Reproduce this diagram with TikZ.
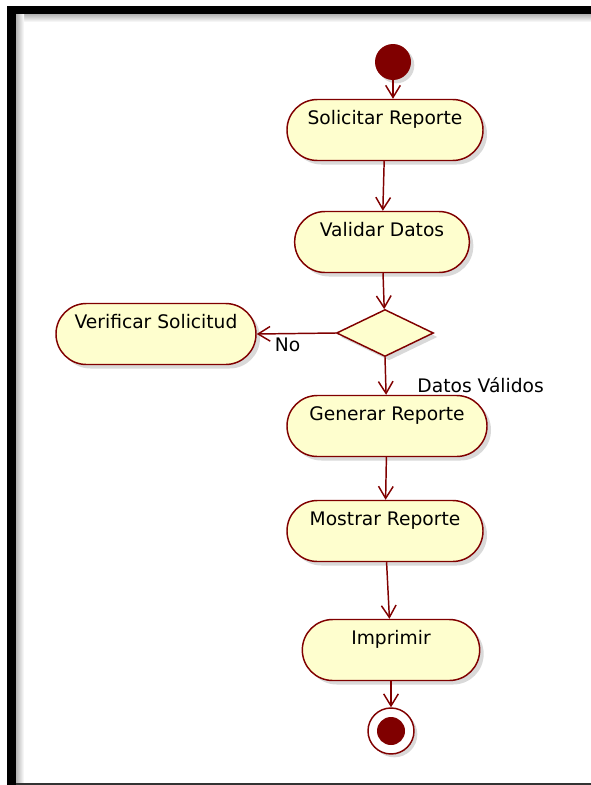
\documentclass[tikz,border=0pt]{standalone}
\usepackage{fontspec}
\setmainfont{DejaVu Sans}
\usetikzlibrary{positioning,shapes.geometric,arrows.meta,shadows}
\definecolor{umlborder}{HTML}{800000}
\definecolor{umlfill}{HTML}{FEFECE}

\begin{document}
\begin{tikzpicture}[x=0.75pt, y=-0.75pt, every node/.style={font=\fontsize{14}{16}\selectfont},
    actbox/.style={draw=umlborder, fill=umlfill, line width=1.1pt, rounded corners=22.8pt,
        text height=18.75pt, text depth=27pt, inner ysep=0pt, inner xsep=0pt,
        drop shadow={shadow xshift=3pt, shadow yshift=-3pt, opacity=0.3}},
    decbox/.style={diamond, draw=umlborder, fill=umlfill, line width=1.1pt, inner sep=0pt,
        minimum width=72.75pt, minimum height=35.25pt,
        drop shadow={shadow xshift=3pt, shadow yshift=-3pt, opacity=0.3}},
    flow/.style={draw=umlborder, line width=1.1pt, -{Straight Barb[length=9pt, width=11pt]}},
    guard/.style={inner sep=3pt}]
    \useasboundingbox (0,0) rectangle (591,785);

    % marco
    \shade[top color=black!30, bottom color=white] (16,14) rectangle (591,22);
    \shade[left color=black!30, right color=white] (16,14) rectangle (24,785);
    \draw[line width=6pt] (7,10) -- (591,10);
    \draw[line width=6.75pt] (11.5,6) -- (11.5,785);
    \draw[line width=1.5pt, black!80] (16,784) -- (591,784);

    % inicio
    \node[circle, fill=umlborder, minimum size=27pt, inner sep=0pt,
        drop shadow={shadow xshift=2.5pt, shadow yshift=-2.5pt, opacity=0.3}] (start) at (393,62) {};

    % actividades
    \node[actbox, minimum width=147pt] (solic) at (385,130) {Solicitar Reporte};
    \node[actbox, minimum width=131pt] (valid) at (382,242) {Validar Datos};
    \node[decbox] (dec) at (385,333) {};
    \node[actbox, minimum width=150pt] (verif) at (156,334) {Verificar Solicitud};
    \node[actbox, minimum width=150pt] (gener) at (387,426) {Generar Reporte};
    \node[actbox, minimum width=147pt] (mostr) at (385,531) {Mostrar Reporte};
    \node[actbox, minimum width=133pt] (impr) at (391,650) {Imprimir};

    % fin
    \node[circle, draw=umlborder, fill=white, line width=1.1pt, minimum size=34.5pt, inner sep=0pt,
        drop shadow={shadow xshift=2.5pt, shadow yshift=-2.5pt, opacity=0.3}] (end) at (391,731) {};
    \fill[umlborder] (end.center) circle (10.5pt);

    % flujos
    \draw[flow] (start.south) -- (start.south |- solic.north);
    \draw[flow] (solic) -- (valid);
    \draw[flow] (valid) -- (dec);
    \draw[flow] (dec.west) -- node[guard, pos=0.61, below] {No} (verif.east);
    \draw[flow] (dec.south) -- (gener)
        node[at end, anchor=base west, xshift=23pt, yshift=2pt, inner sep=0pt] {Datos Válidos};
    \draw[flow] (gener) -- (mostr);
    \draw[flow] (mostr) -- (impr);
    \draw[flow] (impr) -- (end);
\end{tikzpicture}
\end{document}
